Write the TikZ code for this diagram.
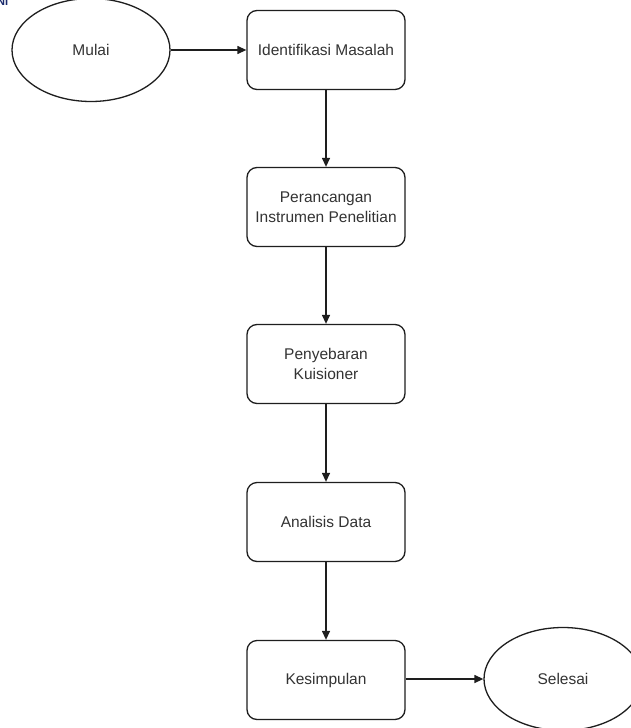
\documentclass[tikz,border=0pt]{standalone}
\usepackage{fontspec}
\setmainfont{Liberation Sans}
\usetikzlibrary{shapes.geometric,arrows.meta}
\definecolor{txt}{HTML}{333333}
\definecolor{ln}{HTML}{1E1E1E}
\definecolor{navy}{HTML}{1A2A6C}
\begin{document}
\begin{tikzpicture}[x=1pt,y=-1pt,
  procbox/.style={draw=ln,line width=1.3pt,rounded corners=10pt,minimum width=158pt,minimum height=79pt,
    align=center,text=txt,font=\fontsize{15.5}{20}\selectfont,inner sep=0pt},
  termin/.style={draw=ln,line width=1.3pt,ellipse,minimum width=158pt,minimum height=103pt,
    text=txt,font=\fontsize{15.5}{20}\selectfont,inner sep=0pt},
  flow/.style={draw=ln,line width=1.3pt,-{Triangle[length=9pt,width=8pt]}}]
\useasboundingbox (0,0) rectangle (631,728);
\clip (0,0) rectangle (631,728);
\fill[white] (0,0) rectangle (631,728);
\node[anchor=north west,inner sep=0pt,text=navy,font=\bfseries\fontsize{11}{11}\selectfont] (hdr) at (-3,-2) {NI};
\node[termin] (mulai) at (91,50) {Mulai};
\node[procbox] (b1) at (326,50) {Identifikasi Masalah};
\node[procbox] (b2) at (326,207) {Perancangan\\Instrumen Penelitian};
\node[procbox] (b3) at (326,364) {Penyebaran\\Kuisioner};
\node[procbox] (b4) at (326,522) {Analisis Data};
\node[procbox] (b5) at (326,680) {Kesimpulan};
\node[termin] (selesai) at (563,679) {Selesai};
\draw[flow] (mulai) -- (b1);
\draw[flow] (b1) -- (b2);
\draw[flow] (b2) -- (b3);
\draw[flow] (b3) -- (b4);
\draw[flow] (b4) -- (b5);
\draw[flow] (b5.east |- selesai) -- (selesai);
\end{tikzpicture}
\end{document}
